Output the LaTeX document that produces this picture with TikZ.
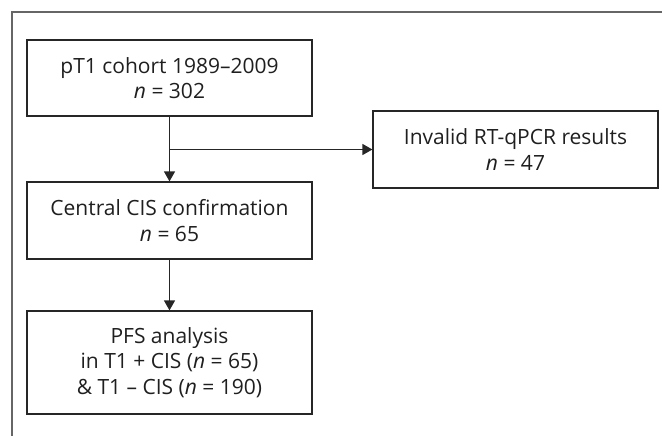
\documentclass[tikz,border=0pt]{standalone}
\usepackage{fontspec}
\setmainfont{Open Sans}
\usetikzlibrary{arrows.meta}
\begin{document}
\begin{tikzpicture}[x=1pt,y=-1pt,
  box/.style={draw=black!85,line width=1.2pt,minimum width=285pt,align=center,
    font=\fontsize{21}{25.5}\selectfont,inner sep=0pt,text=black!88},
  conn/.style={draw=black!85,line width=1.2pt,-{Triangle[length=10pt,width=11pt]}}]
\useasboundingbox (0,0) rectangle (662,436);
\draw[draw=black!60,line width=1.3pt] (12,436) -- (12,12) -- (662,12);
\node[box,minimum height=76pt] (b1) at (169.5,78) {pT1 cohort 1989–2009\\\textit{n} = 302};
\node[box,minimum height=77pt] (b2) at (515.5,149.5) {Invalid RT-qPCR results\\\textit{n} = 47};
\node[box,minimum height=77pt] (b3) at (169.5,220.5) {Central CIS confirmation\\\textit{n} = 65};
\node[box,minimum height=103pt] (b4) at (169.5,362.5) {PFS analysis\\in T1 + CIS (\textit{n} = 65)\\\& T1 – CIS (\textit{n} = 190)};
\coordinate (br) at (b1.south |- b2.west);
\draw[conn] (b1.south) -- (b3.north);
\draw[conn] (br) -- (b2.west);
\draw[conn] (b3.south) -- (b4.north);
\end{tikzpicture}
\end{document}
